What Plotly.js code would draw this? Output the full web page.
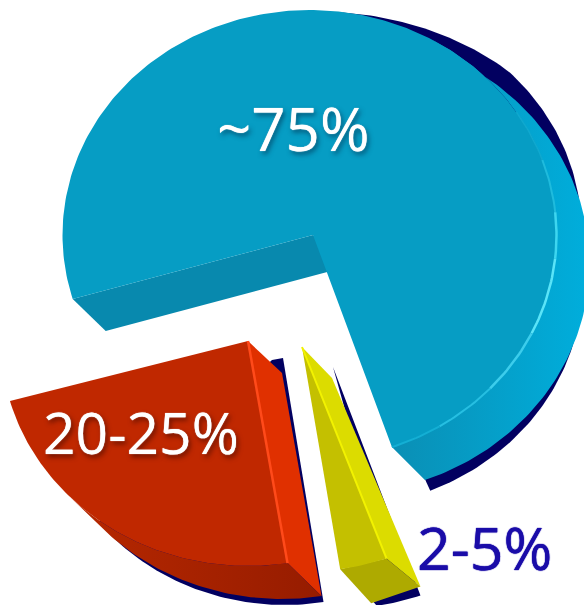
<!DOCTYPE html>
<html>
<head>
<meta charset="utf-8">
<script src="https://cdn.plot.ly/plotly-3.0.1.min.js"></script>
<style>html,body{margin:0;padding:0;background:#fff}#chart{width:584px;height:605px}</style>
</head>
<body>
<div id="chart"></div>
<script>
// Share of each wedge, with the label printed on it
const shareLabels = ['~75%', '20-25%', '2-5%'];
const shareValues = [75, 22.5, 3];

// Tilted-disc projection: a wedge sweeps an elliptical arc on the page, and
// angles open up slightly on the side nearest the viewer
const RX = 247, RY = 225;
const DEG = Math.PI / 180;
const persp = a => a + 2.1 * Math.sin((a - 207) * DEG);
const onDisc = (c, a) => {
  const t = persp(a) * DEG;
  return [c[0] + RX * Math.sin(t), c[1] - RY * Math.cos(t)];
};
const shift = (p, d) => [p[0] + d[0], p[1] + d[1]];

function arc(c, a0, a1) {
  const pts = [], n = Math.ceil(Math.abs(a1 - a0));
  for (let i = 0; i <= n; i++) pts.push(onDisc(c, a0 + (a1 - a0) * i / n));
  return pts;
}
// Arc whose centre slides from c0 to c1 along the sweep
function driftArc(c0, c1, a0, a1) {
  const pts = [], n = Math.ceil(Math.abs(a1 - a0));
  for (let i = 0; i <= n; i++) {
    const f = i / n;
    pts.push(onDisc([c0[0] + (c1[0] - c0[0]) * f, c0[1] + (c1[1] - c0[1]) * f], a0 + (a1 - a0) * f));
  }
  return pts;
}

// One filled polygon on the data axes
function poly(pts, color, gradient) {
  const closed = pts.concat([pts[0]]);
  const t = {
    type: 'scatter', mode: 'lines', hoverinfo: 'skip', showlegend: false,
    x: closed.map(p => p[0]), y: closed.map(p => p[1]),
    fill: 'toself', fillcolor: color, line: {width: 0}
  };
  if (gradient) t.fillgradient = {type: 'horizontal', colorscale: [[0, gradient[0]], [1, gradient[1]]]};
  return t;
}
function stroke(pts, color, width) {
  return {
    type: 'scatter', mode: 'lines', hoverinfo: 'skip', showlegend: false,
    x: pts.map(p => p[0]), y: pts.map(p => p[1]),
    line: {color: color, width: width, shape: 'linear'}
  };
}

// Sweep of each wedge follows from its share
const sweep = shareValues.map(v => v * 3.6);
const NAVY = '#020060';
const traces = [];

// ---- large blue wedge ----
const mainC = [309.5, 235], mainApex = [313, 235];
const mainA0 = 252, mainA1 = mainA0 + sweep[0];
const mainEnd = mainA1 - 360;
// navy backing along the upper right and lower right
const navyUp = shift(mainC, [25, -4]);
traces.push(poly([navyUp].concat(driftArc(shift(mainC, [4, 1]), navyUp, 6, 45)).concat(arc(navyUp, 45, 112)), NAVY));
const navyLow = shift(mainC, [26, 48]);
traces.push(poly([navyLow].concat(arc(navyLow, 50, mainEnd - 3)), NAVY));
// rim: the disc edge extruded, depth easing off towards the far side
const rimOuter = driftArc(shift(mainC, [33, 33]), shift(mainC, [33, 25]), mainEnd, 30);
traces.push(poly(arc(mainC, 30, mainEnd).concat(rimOuter), '#00aedb', ['#0a8fb5', '#00aedc']));
// cut wall on the left
const leftCorner = onDisc(mainC, mainA0);
traces.push(poly([leftCorner, mainApex, shift(mainApex, [33, 32]), shift(leftCorner, [33, 32])], '#0889ae'));
// top face
traces.push(poly([mainApex].concat(arc(mainC, mainA0, mainA1)), '#069dc4'));
// rim highlight, strongest on the right, fading in both directions
[[58, 72, '#10a9cf', 1.5], [72, 86, '#1fbbdd', 2], [86, 98, '#3dd6f0', 2.5], [98, 118, '#5ae4f8', 2.5],
 [118, 135, '#3ccdec', 2.5], [135, 150, '#26bfe2', 2], [150, mainEnd, '#14afd4', 2]].forEach(s => {
  traces.push(stroke(arc(mainC, s[0], s[1]), s[2], s[3]));
});

// ---- red wedge ----
const redC = [248, 341];
const redA0 = 172, redA1 = redA0 + sweep[1];
const redRim = shift(redC, [34, 33]);
traces.push(poly([shift(redC, [24, 19]), shift(redC, [35, 17])]
  .concat(driftArc(shift(redC, [36, 39]), shift(redC, [42, 39]), redA0, 230)), NAVY));
// side wall
const redCorner = onDisc(redC, redA0);
traces.push(poly([redC, shift(redC, [34, 32]), shift(redCorner, [34, 33]), redCorner], '#e03000'));
// bottom rim
traces.push(poly(arc(redC, redA0, 228).concat(arc(redRim, 228, redA0)), '#9c1e00', ['#b82800', '#961c00']));
// top face
traces.push(poly([redC].concat(arc(redC, redA0, redA1)), '#c02800'));
traces.push(stroke([redC, redCorner], '#ff4a1a', 2.5));

// ---- yellow wedge ----
const yelC = [302, 347];
const yelA0 = 161.5, yelA1 = yelA0 + sweep[2];
const yelNavyC = shift(yelC, [34, 37]);
const yelRight = onDisc(yelC, yelA0), yelLeft = onDisc(yelC, yelA1);
// navy sliver down the right side and under the rim
traces.push(poly([shift(yelC, [31, 20])].concat(arc(yelNavyC, yelA0, yelA1 - 0.6))
  .concat([shift(yelLeft, [31, 30]), yelRight]), NAVY));
traces.push(poly([yelC, shift(yelC, [30, 31]), shift(yelRight, [34, 28]), yelRight], '#dcdc00'));
traces.push(poly([yelLeft, yelRight, shift(yelRight, [34, 28]), shift(yelLeft, [31, 34])], '#aeaa00'));
traces.push(poly([yelC].concat(arc(yelC, yelA0, yelA1)), '#c4c000'));
traces.push(stroke([yelC, yelRight], '#f2f200', 2));

// Wedge labels
const thicken = c => '0 0 1px ' + c;
const labelStyle = [
  {x: 293, y: 128, size: 60, color: '#ffffff', shadow: thicken('#ffffff') + ', 2px 3px 5px rgba(0,40,70,0.6)'},
  {x: 141, y: 432, size: 57, color: '#ffffff', shadow: thicken('#ffffff') + ', 2px 3px 5px rgba(70,10,0,0.7)'},
  {x: 484, y: 547, size: 59, color: '#1a0ca8', shadow: thicken('#1a0ca8') + ', ' + thicken('#1a0ca8')}
];
const annotations = shareLabels.map((text, i) => ({
  text: text, xref: 'x', yref: 'y', x: labelStyle[i].x, y: labelStyle[i].y,
  showarrow: false, xanchor: 'center', yanchor: 'middle',
  font: {family: '"Open Sans", "Noto Sans", sans-serif', size: labelStyle[i].size,
         color: labelStyle[i].color, shadow: labelStyle[i].shadow}
}));

const layout = {
  width: 584, height: 605, margin: {l: 0, r: 0, t: 0, b: 0},
  paper_bgcolor: '#ffffff', plot_bgcolor: '#ffffff', showlegend: false,
  xaxis: {range: [0, 584], visible: false, fixedrange: true},
  yaxis: {range: [605, 0], visible: false, fixedrange: true},
  annotations: annotations
};
Plotly.newPlot('chart', traces, layout, {displayModeBar: false, staticPlot: true});
</script>
</body>
</html>
